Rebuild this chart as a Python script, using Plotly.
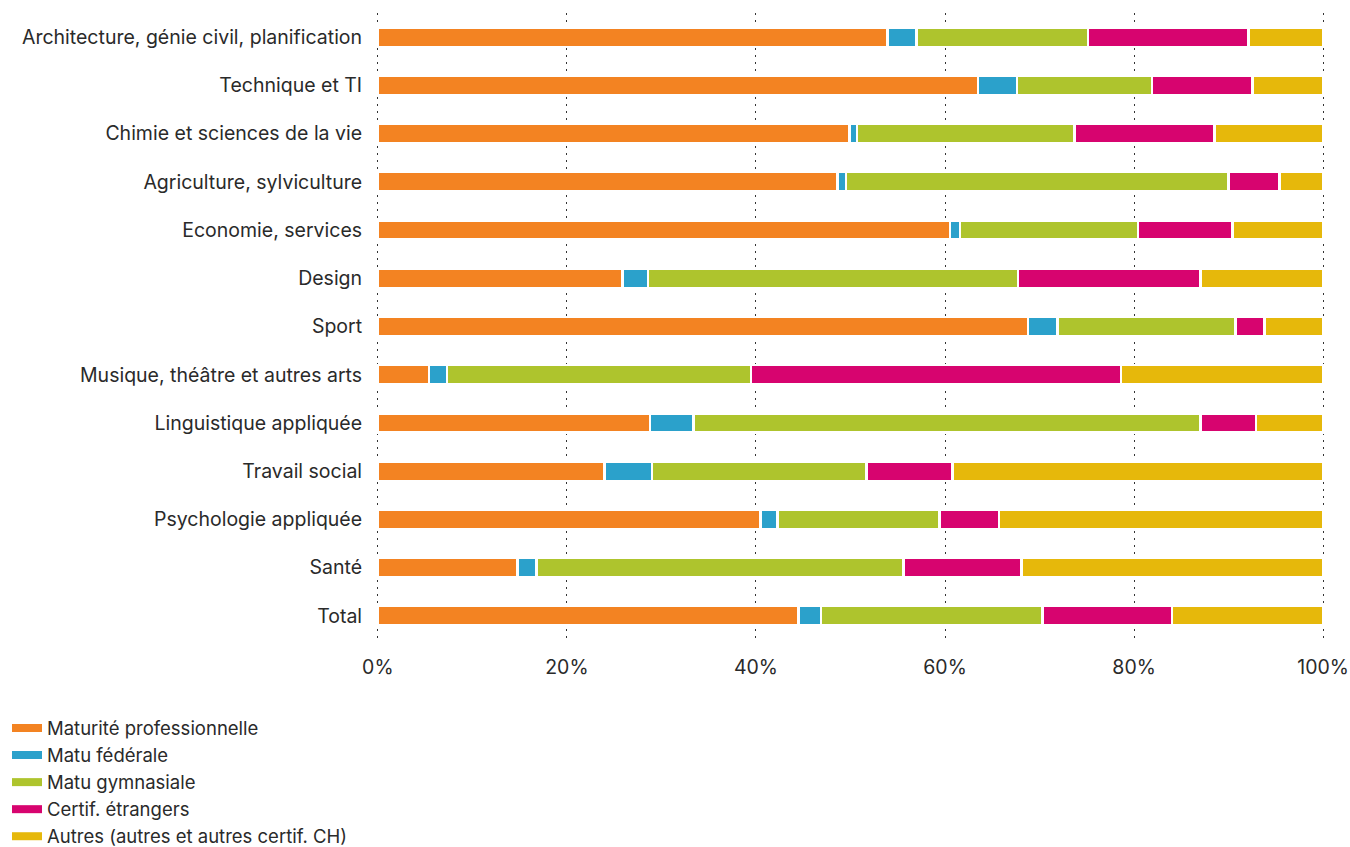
import plotly.graph_objects as go

categories = [
    "Architecture, génie civil, planification",
    "Technique et TI",
    "Chimie et sciences de la vie",
    "Agriculture, sylviculture",
    "Economie, services",
    "Design",
    "Sport",
    "Musique, théâtre et autres arts",
    "Linguistique appliquée",
    "Travail social",
    "Psychologie appliquée",
    "Santé",
    "Total",
]

series_names = [
    "Maturité professionnelle",
    "Matu fédérale",
    "Matu gymnasiale",
    "Certif. étrangers",
    "Autres (autres et autres certif. CH)",
]

maturite_pro = [53.9, 63.5, 49.9, 48.6, 60.5, 25.9, 68.8, 5.4, 28.8, 24.0, 40.5, 14.8, 44.5]
matu_federale = [3.1, 4.1, 0.8, 0.9, 1.1, 2.7, 3.1, 1.9, 4.6, 5.0, 1.8, 2.0, 2.4]
matu_gymnasiale = [18.1, 14.3, 23.0, 40.5, 18.8, 39.1, 18.8, 32.2, 53.6, 22.7, 17.1, 38.8, 23.4]
certif_etrangers = [17.0, 10.6, 14.8, 5.4, 10.0, 19.3, 3.1, 39.1, 5.9, 9.1, 6.3, 12.5, 13.7]
autres = [7.9, 7.5, 11.5, 4.6, 9.6, 13.0, 6.2, 21.4, 7.1, 39.2, 34.3, 31.9, 16.0]

tick_values = [0, 20, 40, 60, 80, 100]
tick_labels = ["0%", "20%", "40%", "60%", "80%", "100%"]

colors = ["#F38322", "#2BA1CB", "#AEC42D", "#D7046F", "#E6B80B"]
all_series = [maturite_pro, matu_federale, matu_gymnasiale, certif_etrangers, autres]

FONT = "Inter"
FSIZE = 19.5
LSIZE = 18.5
TEXT_COLOR = "#2a2a2a"

W, H = 1350, 847
PAD = 0.3  # small range padding so the 0% and 100% grid lines are drawn
PXPCT = 9.455

fig = go.Figure()
for name, vals, col in zip(series_names, all_series, colors):
    fig.add_trace(go.Bar(
        y=categories, x=vals, name=name, orientation="h",
        marker=dict(color=col, line=dict(color="white", width=2.5)),
        width=0.4, showlegend=False, hoverinfo="x+y+name",
    ))

for i, (name, col) in enumerate(zip(series_names, colors)):
    fig.add_trace(go.Scatter(
        x=[None], y=[None], mode="lines", name=name,
        line=dict(color=col, width=8), showlegend=True,
    ))

fig.update_layout(
    barmode="stack",
    width=W, height=H,
    paper_bgcolor="white", plot_bgcolor="white",
    margin=dict(l=377.5 - PAD * PXPCT, r=27 - PAD * PXPCT, t=13, b=207, autoexpand=False),
    font=dict(family=FONT, size=FSIZE, color=TEXT_COLOR),
    showlegend=True,
    legend=dict(
        xref="container", yref="container",
        x=7 / W, y=1 - 709.5 / H, xanchor="left", yanchor="top",
        orientation="v", traceorder="normal",
        font=dict(family=FONT, size=LSIZE, color=TEXT_COLOR),
        itemwidth=30, bgcolor="rgba(0,0,0,0)",
    ),
)

fig.update_xaxes(
    range=[-PAD, 100 + PAD], tickvals=tick_values, ticktext=tick_labels,
    showgrid=True, gridcolor="#333333", gridwidth=1, griddash="2px,5px",
    zeroline=False, showline=False,
    ticks="outside", ticklen=10, tickcolor="rgba(0,0,0,0)",
    tickfont=dict(family=FONT, size=FSIZE, color=TEXT_COLOR),
    ticklabeloverflow="allow",
    fixedrange=True,
)
fig.update_yaxes(
    autorange="reversed", showgrid=False, zeroline=False, showline=False,
    ticks="outside", ticklen=8, tickcolor="rgba(0,0,0,0)",
    tickfont=dict(family=FONT, size=FSIZE, color=TEXT_COLOR),
    fixedrange=True,
)

fig.write_html(
    "out.html",
    config={"displayModeBar": False},
    post_script="document.body.style.margin='0';document.body.style.overflow='hidden';",
)
